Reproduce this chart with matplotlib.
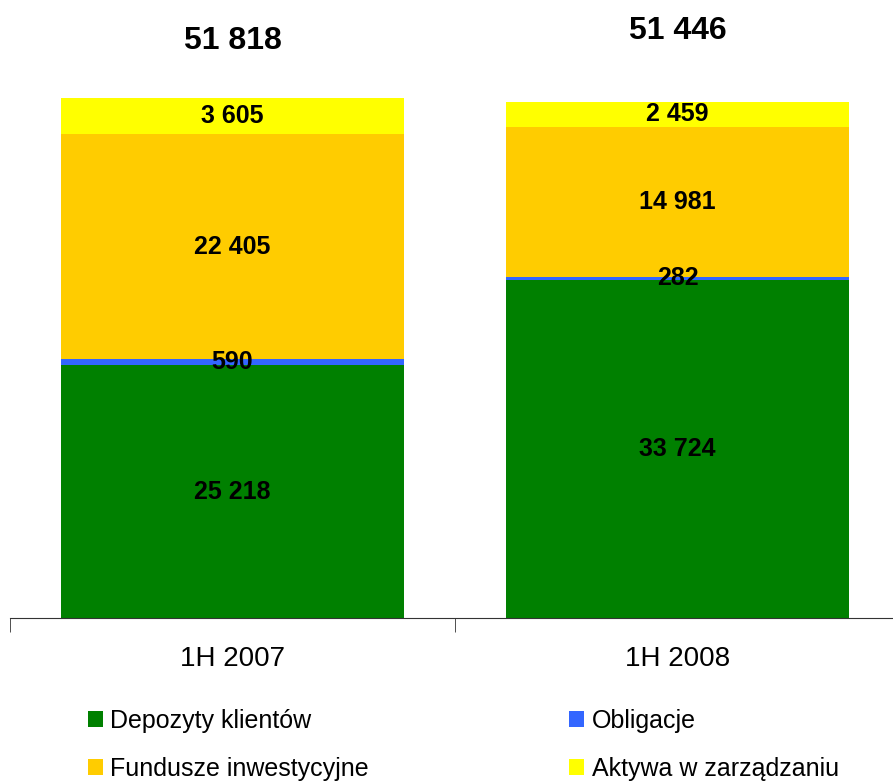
import numpy as np
import matplotlib.pyplot as plt

plt.rcParams['font.family'] = ['Liberation Sans', 'DejaVu Sans']

categories = ['1H 2007', '1H 2008']
depozyty = [25218, 33724]
obligacje = [590, 282]
fundusze = [22405, 14981]
aktywa = [3605, 2459]
totals = [51818, 51446]

series = [
    ('Depozyty klientów', depozyty, '#008000'),
    ('Obligacje', obligacje, '#3366FF'),
    ('Fundusze inwestycyjne', fundusze, '#FFCC00'),
    ('Aktywa w zarządzaniu', aktywa, '#FFFF00'),
]


def fmt(v):
    return '{:,}'.format(v).replace(',', ' ')


fig = plt.figure(figsize=(8.93, 7.83), dpi=100)
ax = fig.add_axes([10 / 893, 165 / 783, 890 / 893, 618 / 783])

x = np.arange(len(categories))
bottom = np.zeros(len(categories))
handles = {}
for name, vals, color in series:
    vals = np.array(vals, dtype=float)
    b = ax.bar(x, vals, width=0.77, bottom=bottom, color=color, label=name)
    handles[name] = b
    for xi, v, b0 in zip(x, vals, bottom):
        ax.text(xi, b0 + v / 2, fmt(int(v)), ha='center', va='center',
                fontsize=18, fontweight='bold', color='black')
    bottom += vals

# totals above bars (placed roughly as in the source)
total_y = [57500, 58500]
for xi, t, ty in zip(x, totals, total_y):
    ax.text(xi, ty, fmt(t), ha='center', va='center', fontsize=23,
            fontweight='bold', color='black')

ax.set_xlim(-0.5, 1.5)
ax.set_ylim(0, 61600)
for s in ['left', 'right', 'top']:
    ax.spines[s].set_visible(False)
ax.spines['bottom'].set_color('#333333')
ax.set_yticks([])
ax.set_xticks(x)
ax.set_xticklabels(categories, fontsize=20)
ax.tick_params(axis='x', which='major', length=0, pad=20)
ax.set_xticks([-0.5, 0.5, 1.5], minor=True)
ax.tick_params(axis='x', which='minor', length=10, direction='out', color='#333333')

order = ['Depozyty klientów', 'Fundusze inwestycyjne', 'Obligacje', 'Aktywa w zarządzaniu']
fig.legend([handles[n] for n in order], order, ncol=2, loc='upper left',
           bbox_to_anchor=(88 / 893, 1 - 709 / 783), frameon=False, fontsize=18,
           handlelength=0.6, handleheight=0.6, handletextpad=0.3,
           columnspacing=8.0, labelspacing=0.95, borderaxespad=0, borderpad=0)

fig.savefig('out.png', dpi=100)
